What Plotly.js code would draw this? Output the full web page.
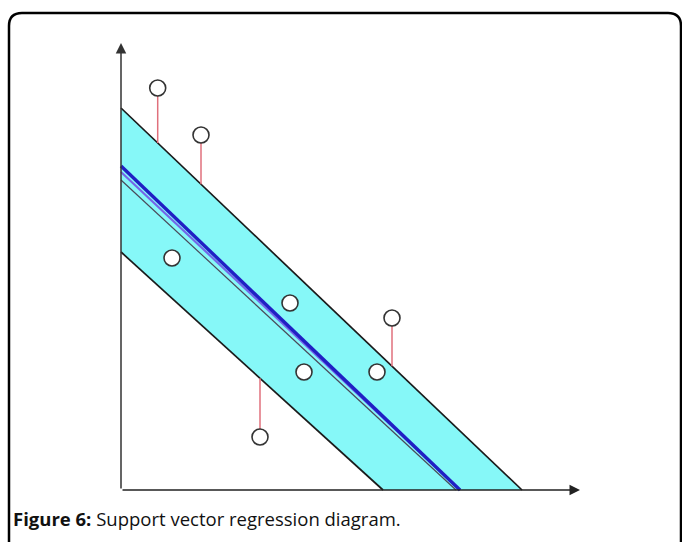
<!DOCTYPE html>
<html>
<head>
<meta charset="utf-8">
<script src="https://cdn.plot.ly/plotly-3.0.1.min.js"></script>
<style>html,body{margin:0;padding:0;background:#fff;}#chart{width:682px;height:542px;}</style>
</head>
<body>
<div id="chart"></div>
<script>
// Diagram units: origin at the axes corner
const upperX = [0, 40.1];      // upper epsilon boundary
const upperY = [38.2, 0];
const lowerX = [0, 26.2];      // lower epsilon boundary
const lowerY = [23.8, 0];
const regX = [0, 33.9];        // regression line (blue)
const regY = [32.4, 0];
const reg2X = [0, 33.9];       // companion line (purple)
const reg2Y = [31.8, 0];
const reg3X = [0, 33.5];       // companion line (grey)
const reg3Y = [31.0, 0];

const pointX = [3.67, 8.0, 5.1, 16.9, 27.1, 18.3, 25.6, 13.9];
const pointY = [40.2, 35.5, 23.2, 18.7, 17.2, 11.8, 11.8, 5.3];
// outliers: index of point and which boundary the slack goes to
const outlierIdx = [0, 1, 4, 7];
const outlierSide = ['upper', 'upper', 'upper', 'lower'];

const axisXEnd = 45.9;
const axisYEnd = 44.7;
const caption = '<b>Figure 6:</b> Support vector regression diagram.';

function lineAt(xs, ys, x) {
  const t = (x - xs[0]) / (xs[1] - xs[0]);
  return ys[0] + t * (ys[1] - ys[0]);
}

const stemX = [], stemY = [];
outlierIdx.forEach((i, k) => {
  const px = pointX[i], py = pointY[i];
  const ly = outlierSide[k] === 'upper' ? lineAt(upperX, upperY, px) : lineAt(lowerX, lowerY, px);
  stemX.push(px, px, null);
  stemY.push(py, ly, null);
});

const traces = [
  { x: [upperX[0], upperX[1], lowerX[1], lowerX[0]], y: [upperY[0], upperY[1], lowerY[1], lowerY[0]],
    fill: 'toself', fillcolor: '#86f8f8', mode: 'lines', line: {width: 0}, hoverinfo: 'skip' },
  { x: upperX, y: upperY, mode: 'lines', line: {color: '#1a1a1a', width: 1.7} },
  { x: lowerX, y: lowerY, mode: 'lines', line: {color: '#1a1a1a', width: 1.7} },
  { x: reg3X, y: reg3Y, mode: 'lines', line: {color: '#4a4a5a', width: 1.2} },
  { x: reg2X, y: reg2Y, mode: 'lines', line: {color: '#7466e8', width: 2.2} },
  { x: regX, y: regY, mode: 'lines', line: {color: '#2020c4', width: 3.4} },
  { x: stemX, y: stemY, mode: 'lines', line: {color: '#e0707c', width: 1.5} },
  { x: pointX, y: pointY, mode: 'markers',
    marker: {symbol: 'circle', size: 16, color: '#ffffff', line: {color: '#333333', width: 1.6}} }
];

const W = 682, H = 542;
const px = v => v / W, py = v => 1 - v / H;
const framePath = `M ${px(9)} ${py(560)} L ${px(9)} ${py(26)} Q ${px(9)} ${py(13)} ${px(22)} ${py(13)} ` +
                  `L ${px(668)} ${py(13)} Q ${px(681)} ${py(13)} ${px(681)} ${py(26)} L ${px(681)} ${py(560)}`;

const layout = {
  width: W, height: H,
  margin: {l: 0, r: 0, t: 0, b: 0},
  paper_bgcolor: '#ffffff', plot_bgcolor: '#ffffff',
  showlegend: false,
  xaxis: {range: [-12.1, 56.1], visible: false, fixedrange: true},
  yaxis: {range: [-5.2, 49.0], visible: false, fixedrange: true},
  shapes: [
    {type: 'path', xref: 'paper', yref: 'paper', path: framePath, line: {color: '#000', width: 2.5}}
  ],
  annotations: [
    {x: axisXEnd, y: 0, ax: 0, ay: 0, xref: 'x', yref: 'y', axref: 'x', ayref: 'y', text: '',
     showarrow: true, arrowhead: 2, arrowsize: 1.4, arrowwidth: 1.5, arrowcolor: '#222'},
    {x: 0, y: axisYEnd, ax: 0, ay: 0, xref: 'x', yref: 'y', axref: 'x', ayref: 'y', text: '',
     showarrow: true, arrowhead: 2, arrowsize: 1.4, arrowwidth: 1.5, arrowcolor: '#333'},
    {x: px(11), y: py(518), xref: 'paper', yref: 'paper', xanchor: 'left', yanchor: 'middle',
     text: caption, showarrow: false, font: {family: 'Open Sans, sans-serif', size: 18.5, color: '#111'}}
  ]
};

Plotly.newPlot('chart', traces, layout, {staticPlot: true, displayModeBar: false});
</script>
</body>
</html>
